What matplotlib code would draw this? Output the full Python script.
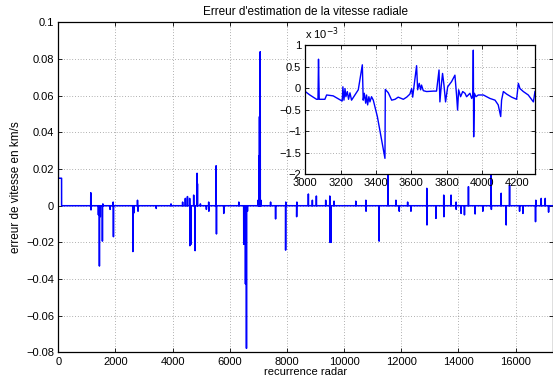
import numpy as np
import matplotlib
matplotlib.use("Agg")
import matplotlib.pyplot as plt
from matplotlib.ticker import FuncFormatter

plt.rcParams['font.family'] = ['Liberation Sans', 'DejaVu Sans']
plt.rcParams['font.size'] = 8

# start of the record: short plateau before the error drops to zero
start_x = [0, 1, 115, 116]
start_y = [0.024, 0.015, 0.015, 0.0]
n_total = 17300

# isolated error spikes (recurrence index, error in km/s)
spike_x = [1137, 1145, 1404, 1439, 1470, 1544, 1560, 1814, 1920, 1930,
           2610, 2640, 2772, 2790, 3428, 3944,
           4351, 4446, 4520, 4597, 4605, 4647, 4738, 4787, 4857, 4870,
           4973, 5183, 5263, 5270, 5523, 5535, 5790, 6316, 6490, 6550,
           6585, 6620, 6990, 7018, 7040, 7066, 7090, 7429, 7604, 7955,
           7960, 8341, 8350, 8751, 8891, 9031, 9358, 9500, 9509, 9544,
           9649, 10411, 10762, 10770, 11229, 11540, 11815, 11932, 12225,
           12341, 12895, 12902, 13216, 13488, 13495, 13744, 13920, 13925,
           14096, 14213, 14353, 14587, 14856, 15147, 15155, 15499, 15674,
           15791, 16142, 16259, 16700, 16710, 16900, 17040, 17157]
spike_y = [0.0071, -0.0023, -0.005, -0.0329, -0.006, -0.0193, 0.001, -0.002, 0.002, -0.0169,
           -0.025, -0.004, 0.003, -0.003, -0.0015, 0.001,
           0.002, 0.004, 0.005, 0.004, -0.0218, -0.021, 0.0058, -0.0245, 0.0177, 0.012,
           0.001, -0.002, 0.002, -0.003, 0.0218, -0.0154, -0.0042, 0.002, -0.021, -0.0427,
           -0.0778, -0.003, 0.003, 0.0273, 0.0486, 0.084, 0.003, 0.002, -0.0072, -0.0242,
           0.002, -0.006, 0.002, 0.0064, 0.003, 0.0053, 0.003, 0.0053, -0.02, -0.02,
           0.0025, 0.0025, 0.003, -0.003, -0.0193, 0.025, 0.003, -0.003, 0.002,
           -0.003, 0.0095, -0.0105, -0.0069, 0.0058, -0.006, 0.0058, 0.002, -0.002,
           -0.0042, -0.005, 0.0104, -0.0045, -0.003, 0.022, -0.002, 0.0068, -0.0105,
           0.0113, -0.003, -0.0042, -0.0087, 0.003, 0.004, 0.004, -0.0035]

# zoom on recurrences 3000-4300 (values in 1e-3 km/s)
inset_x = [3000, 3026, 3064, 3072, 3075, 3079, 3111, 3121, 3158, 3200, 3209, 3213,
           3219, 3225, 3230, 3238, 3245, 3253, 3262, 3281, 3300, 3323, 3328, 3334,
           3342, 3347, 3353, 3360, 3366, 3375, 3385, 3408, 3432, 3451, 3453, 3470,
           3489, 3508, 3526, 3555, 3574, 3592, 3602, 3608, 3613, 3630, 3636, 3645,
           3653, 3658, 3668, 3687, 3725, 3743, 3757, 3762, 3770, 3777, 3785, 3794,
           3806, 3828, 3847, 3857, 3862, 3868, 3879, 3891, 3904, 3913, 3932, 3942,
           3949, 3951, 3953, 3957, 3966, 3979, 4008, 4045, 4074, 4092, 4106, 4111,
           4121, 4140, 4168, 4196, 4206, 4215, 4234, 4262, 4291, 4300]
inset_y = [-0.08, -0.16, -0.26, -0.26, 0.67, -0.26, -0.26, -0.16, -0.18, -0.28, -0.30, 0.03,
           -0.28, -0.01, -0.20, -0.08, -0.26, -0.11, -0.28, -0.16, -0.04, 0.54, -0.28, -0.12,
           -0.35, -0.16, -0.39, -0.20, -0.32, -0.20, -0.28, -0.66, -1.20, -1.63, -0.03, -0.11,
           -0.28, -0.26, -0.21, -0.26, -0.21, -0.14, -0.01, -0.21, -0.04, 0.52, -0.04, 0.11,
           -0.04, 0.07, -0.06, -0.08, -0.07, -0.07, 0.42, -0.32, 0.07, 0.34, 0.07, -0.32,
           0.03, 0.15, 0.30, -0.20, -0.51, -0.04, -0.20, -0.08, -0.12, -0.20, -0.12, -0.24,
           -0.16, 0.88, -1.13, -0.12, -0.20, -0.16, -0.16, -0.24, -0.28, -0.39, -0.66, -0.28,
           -0.08, -0.14, -0.21, -0.26, 0.11, -0.01, -0.08, -0.16, -0.32, -0.08]

# build the full series: zero baseline with the spikes
xs = list(start_x)
ys = list(start_y)
for x, v in sorted(zip(spike_x, spike_y)):
    xs += [x - 3, x, x + 3]
    ys += [0.0, v, 0.0]
xs.append(n_total)
ys.append(0.0)


def fmt(v, pos):
    if abs(v) < 1e-9:
        return '0'
    s = '%g' % round(v, 6)
    return s.replace('-', '\u2212')


def style(ax):
    ax.tick_params(direction='in', top=True, right=True, length=3, width=0.6, pad=3)
    ax.grid(True, color='k', linestyle=(0, (1, 3)), linewidth=0.5, alpha=0.6)
    for s in ax.spines.values():
        s.set_linewidth(0.9)
    ax.yaxis.set_major_formatter(FuncFormatter(fmt))


fig = plt.figure(figsize=(5.53, 3.79), dpi=100)
ax = fig.add_axes([0.1054, 0.0702, 0.8940, 0.8707])
ax.plot(xs, ys, color='#0000ff', linewidth=1.1)
ax.set_xlim(0, n_total)
ax.set_ylim(-0.08, 0.1)
ax.set_xticks(np.arange(0, 16001, 2000))
ax.set_yticks(np.linspace(-0.08, 0.1, 10))
style(ax)
ax.set_title("Erreur d'estimation de la vitesse radiale", fontsize=8.5, pad=5)
ax.set_xlabel('recurrence radar', labelpad=0)
ax.set_ylabel('erreur de vitesse en km/s', fontsize=8.5, labelpad=3)

ins = fig.add_axes([0.552, 0.5401, 0.4154, 0.3412])
ins.plot(inset_x, inset_y, color='#0000ff', linewidth=1.0)
ins.set_xlim(3000, 4300)
ins.set_ylim(-2, 1)
ins.set_xticks(np.arange(3000, 4201, 200))
ins.set_yticks(np.arange(-2, 1.01, 0.5))
style(ins)
ins.text(0.0, 1.02, 'x 10$^{-3}$', transform=ins.transAxes, ha='left', va='bottom', fontsize=8)

fig.savefig('out.png', dpi=100)
